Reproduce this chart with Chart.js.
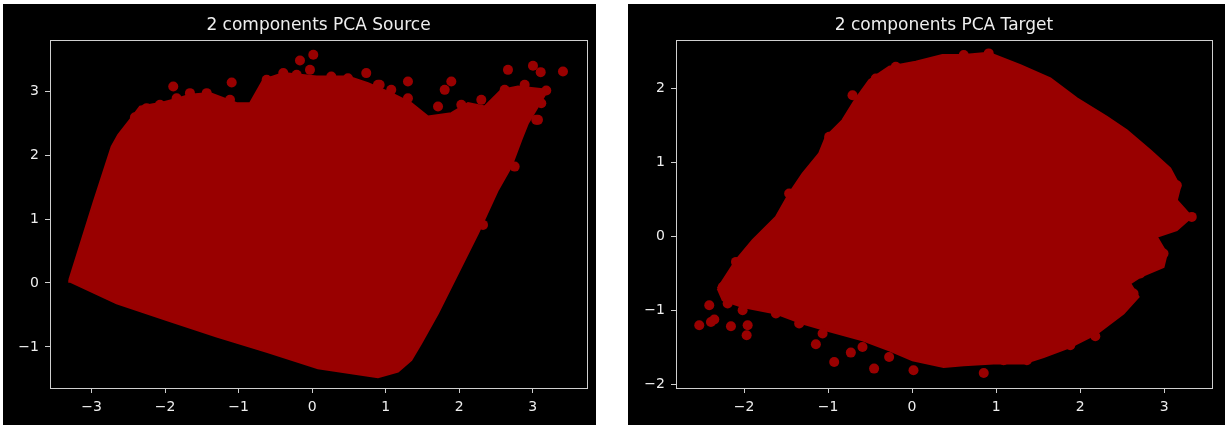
<!DOCTYPE html>
<html>
<head>
<meta charset="utf-8">
<script src="https://cdn.jsdelivr.net/npm/chart.js@4.4.0/dist/chart.umd.min.js"></script>
<style>
  body { margin: 0; background: #fff; width: 1225px; height: 425px; overflow: hidden; }
  .panel { position: absolute; background: #000; }
  #srcBox { left: 3px; top: 4px; width: 593px; height: 421px; }
  #tgtBox { left: 628px; top: 4px; width: 597px; height: 421px; }
</style>
</head>
<body>
<div class="panel" id="srcBox"><canvas id="srcChart" width="593" height="421"></canvas></div>
<div class="panel" id="tgtBox"><canvas id="tgtChart" width="597" height="421"></canvas></div>
<script>
// outline of the dense cloud (source)
const srcEdgeX = [-3.305, -2.978, -2.728, -2.638, -2.479, -2.343, -2.071, -1.890, -1.665, -1.393, -1.027, -0.846, -0.665, -0.393, 0.061, 0.215, 0.487, 0.759, 1.076, 1.348, 1.576, 1.893, 2.120, 2.347, 2.573, 2.800, 3.208, 3.072, 2.936, 2.845, 2.709, 2.528, 2.256, 1.984, 1.712, 1.484, 1.348, 1.167, 0.895, 0.532, 0.079, -0.619, -1.299, -1.980, -2.660, -3.295, -3.305];
const srcEdgeY = [0.047, 1.247, 2.133, 2.316, 2.551, 2.759, 2.813, 2.864, 2.942, 2.969, 2.812, 2.812, 3.177, 3.282, 3.228, 3.228, 3.228, 3.125, 2.969, 2.812, 2.603, 2.656, 2.812, 2.759, 3.020, 3.072, 3.020, 2.759, 2.499, 2.238, 1.820, 1.455, 0.778, 0.152, -0.474, -0.944, -1.205, -1.388, -1.476, -1.413, -1.335, -1.075, -0.840, -0.579, -0.318, 0.020, 0.047];
// stray points and the bumpy upper rim (source)
const srcDotX = [-1.890, -1.095, -0.166, 0.015, -1.663, -2.252, -2.411, 0.736, 1.303, 1.893, 2.664, 3.004, 3.109, 3.412, 3.185, 3.072, 2.755, 2.324, 1.803, 0.895,
  -2.071, -1.844, -1.435, -1.118, -0.619, -0.393, -0.211, -0.030, 0.260, 0.487, 0.668, 0.918, 1.076, 1.303, 1.712, 2.029, 2.301, 2.619, 2.891, 3.117, 3.049];
const srcDotY = [3.072, 3.135, 3.479, 3.568, 2.969, 2.734, 2.593, 3.282, 3.150, 3.150, 3.333, 3.396, 3.297, 3.307, 3.009, 2.551, 1.820, 0.908, 3.020, 3.099,
  2.786, 2.890, 2.969, 2.864, 3.177, 3.282, 3.255, 3.333, 3.228, 3.203, 3.072, 3.099, 3.020, 2.890, 2.759, 2.786, 2.864, 3.020, 3.099, 2.812, 2.551];

// outline of the dense cloud (target)
const tgtEdgeX = [-2.314, -2.096, -1.898, -1.621, -1.463, -1.303, -1.106, -1.026, -0.828, -0.681, -0.511, -0.273, 0.044, 0.361, 0.615, 0.912, 1.289, 1.646, 1.962, 2.319, 2.556, 2.835, 3.073, 3.191, 3.151, 3.329, 3.151, 2.913, 3.032, 2.993, 2.716, 2.597, 2.696, 2.517, 2.200, 1.883, 1.566, 1.328, 0.971, 0.615, 0.376, 0.005, -0.273, -0.590, -1.026, -1.303, -1.621, -2.017, -2.254, -2.314];
const tgtEdgeY = [-0.707, -0.324, -0.054, 0.261, 0.577, 0.847, 1.118, 1.342, 1.568, 1.838, 2.108, 2.288, 2.355, 2.446, 2.446, 2.477, 2.311, 2.131, 1.861, 1.612, 1.432, 1.162, 0.915, 0.666, 0.486, 0.261, 0.081, -0.009, -0.234, -0.415, -0.550, -0.639, -0.820, -1.045, -1.315, -1.496, -1.631, -1.720, -1.720, -1.743, -1.766, -1.676, -1.541, -1.405, -1.270, -1.180, -1.045, -0.955, -0.865, -0.707];
// stray points and rim bumps (target)
const tgtDotX = [-2.533, -2.414, -2.394, -2.354, -2.156, -1.957, -1.969, -1.145, -0.927, -0.729, -0.452, 0.017, 0.853, 0.436, 2.181, 3.151, -2.195, -1.344, -0.709,
  -2.096, -1.463, -0.987, -0.432, -0.194, 0.615, 0.912, 3.329, 2.993, 2.716, 2.636, 1.883, 1.367, 1.090, -0.273, -0.590, -1.065, -1.621, -2.017, -2.254];
const tgtDotY = [-1.203, -0.932, -1.158, -1.126, -1.216, -1.203, -1.338, -1.459, -1.699, -1.572, -1.788, -1.811, -1.847, -1.699, -1.351, 0.689, -0.909, -1.180, 1.905,
  -0.347, 0.577, 1.342, 2.131, 2.288, 2.446, 2.469, 0.261, -0.234, -0.504, -0.774, -1.473, -1.676, -1.676, -1.631, -1.496, -1.315, -1.045, -1.000, -0.685];

const srcXTicks = [-3, -2, -1, 0, 1, 2, 3];
const srcYTicks = [-1, 0, 1, 2, 3];
const tgtXTicks = [-2, -1, 0, 1, 2, 3];
const tgtYTicks = [-2, -1, 0, 1, 2];

const RED = '#990000';
const FRAME = '#cfcfcf';

const framePlugin = {
  id: 'frame',
  afterDraw(chart) {
    const a = chart.chartArea;
    const ctx = chart.ctx;
    ctx.save();
    ctx.strokeStyle = FRAME;
    ctx.lineWidth = 1;
    ctx.strokeRect(Math.round(a.left) + 0.5, Math.round(a.top) + 0.5, Math.round(a.right - a.left), Math.round(a.bottom - a.top));
    ctx.restore();
  }
};

function pts(xs, ys) {
  return xs.map((x, i) => ({ x: x, y: ys[i] }));
}

function axis(min, max, ticks, isY, fitSize) {
  return {
    type: 'linear',
    min: min,
    max: max,
    afterBuildTicks: s => { s.ticks = ticks.map(v => ({ value: v })); },
    afterFit: s => { if (isY) s.width = fitSize; else s.height = fitSize; },
    grid: { display: true, drawOnChartArea: false, drawTicks: true, tickLength: 5, color: FRAME },
    border: { display: true, color: FRAME },
    ticks: {
      color: '#eeeeee',
      padding: 6,
      font: { family: 'DejaVu Sans', size: 14 },
      callback: v => String(v).replace('-', '\u2212')
    }
  };
}

function makeChart(id, title, edgeX, edgeY, dotX, dotY, xTicks, yTicks, xr, yr, yWidth, padRight) {
  return new Chart(document.getElementById(id), {
    type: 'scatter',
    data: {
      datasets: [{
        data: pts(edgeX, edgeY),
        showLine: true,
        fill: 'shape',
        tension: 0,
        backgroundColor: RED,
        borderColor: RED,
        borderWidth: 2,
        pointRadius: 0
      }, {
        data: pts(dotX, dotY),
        backgroundColor: RED,
        borderColor: RED,
        borderWidth: 0,
        pointRadius: 5
      }]
    },
    options: {
      responsive: false,
      animation: false,
      layout: { padding: { left: 0, right: padRight, top: 0, bottom: 0 } },
      scales: {
        x: axis(xr[0], xr[1], xTicks, false, 37),
        y: axis(yr[0], yr[1], yTicks, true, yWidth)
      },
      plugins: {
        legend: { display: false },
        tooltip: { enabled: false },
        title: {
          display: true,
          text: title,
          fullSize: false,
          color: '#eeeeee',
          font: { family: 'DejaVu Sans', size: 17, weight: 'normal' },
          padding: { top: 11, bottom: 4.6 }
        }
      }
    },
    plugins: [framePlugin]
  });
}

makeChart('srcChart', '2 components PCA Source', srcEdgeX, srcEdgeY, srcDotX, srcDotY,
  srcXTicks, srcYTicks, [-3.567, 3.739], [-1.643, 3.80], 47, 9);
makeChart('tgtChart', '2 components PCA Target', tgtEdgeX, tgtEdgeY, tgtDotX, tgtDotY,
  tgtXTicks, tgtYTicks, [-2.81, 3.57], [-2.05, 2.65], 48, 13);
</script>
</body>
</html>
